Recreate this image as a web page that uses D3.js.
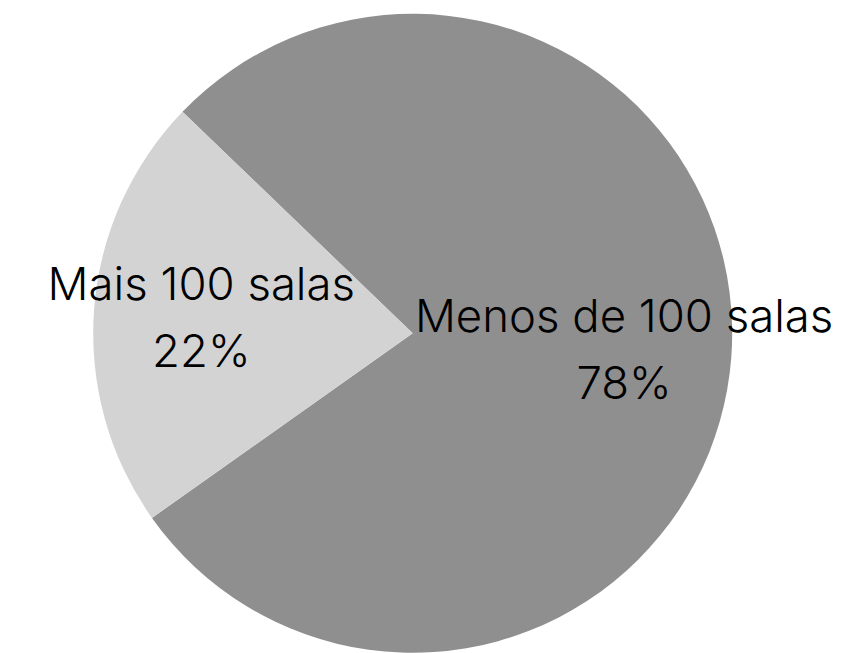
<!DOCTYPE html>
<html>
<head>
<meta charset="utf-8">
<script src="https://cdn.jsdelivr.net/npm/d3@7"></script>
<style>
  html, body { margin: 0; padding: 0; background: #ffffff; }
  svg { display: block; }
</style>
</head>
<body>
<div id="chart"></div>
<script>
// Share of cinemas by number of screens
const categories = ["Menos de 100 salas", "Mais 100 salas"];
const values = [78, 22];
const percentLabels = ["78%", "22%"];
const colors = ["#8f8f8f", "#d3d3d3"];

const width = 846, height = 653;
const cx = 412.7, cy = 333.3, radius = 319.5;
const fontSize = 45.5, lineGap = 66.7, capHeight = 32.5;

const svg = d3.select("#chart").append("svg")
  .attr("width", width).attr("height", height);

const g = svg.append("g").attr("transform", `translate(${cx},${cy})`);

const pie = d3.pie()
  .sort(null)
  .value(d => d)
  .startAngle(-46.1 * Math.PI / 180)
  .endAngle((360 - 46.1) * Math.PI / 180);

const arcs = pie(values);

const arc = d3.arc().innerRadius(0).outerRadius(radius);
const labelArc = d3.arc().innerRadius(212).outerRadius(212);

g.selectAll("path.slice")
  .data(arcs)
  .join("path")
  .attr("class", "slice")
  .attr("d", arc)
  .attr("fill", (d, i) => colors[i]);

const labels = g.selectAll("text.label")
  .data(arcs)
  .join("text")
  .attr("class", "label")
  .attr("text-anchor", "middle")
  .attr("font-family", "Inter, Lato, sans-serif")
  .attr("font-weight", 300)
  .attr("font-size", fontSize)
  .attr("fill", "#000");

labels.each(function(d, i) {
  const [x, y] = labelArc.centroid(d);
  const top = y - (capHeight + lineGap) / 2;
  const t = d3.select(this);
  t.append("tspan").attr("x", x).attr("y", top + capHeight).text(categories[i]);
  t.append("tspan").attr("x", x).attr("y", top + capHeight + lineGap).text(percentLabels[i]);
});
</script>
</body>
</html>
